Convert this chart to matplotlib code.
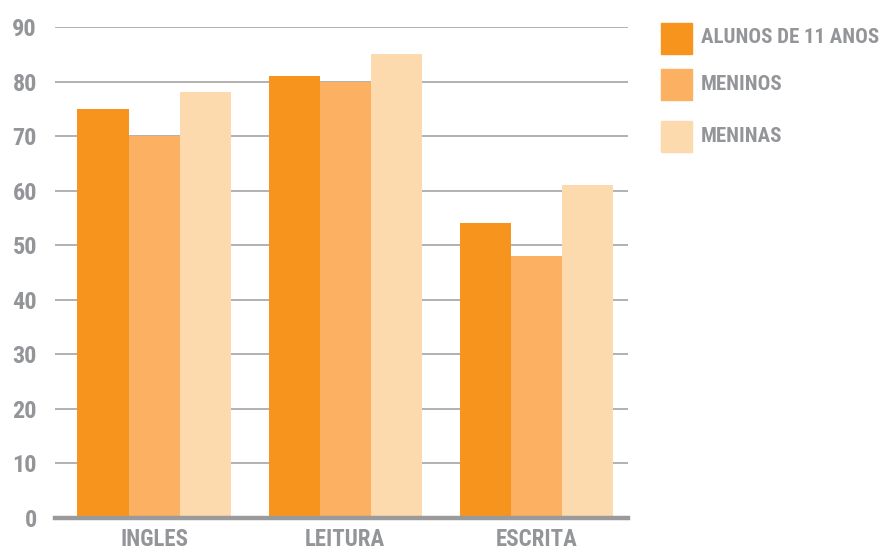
import matplotlib
matplotlib.use("Agg")
import matplotlib.pyplot as plt
from matplotlib.patches import Rectangle
from matplotlib import font_manager
import numpy as np

categories = ["INGLES", "LEITURA", "ESCRITA"]
series_names = ["ALUNOS DE 11 ANOS", "MENINOS", "MENINAS"]
alunos = [75, 81, 54]
meninos = [70, 80, 48]
meninas = [78, 85, 61]
yticks = [0, 10, 20, 30, 40, 50, 60, 70, 80, 90]
colors = ["#F7941E", "#FBB062", "#FDD9AE"]

names = {f.name for f in font_manager.fontManager.ttflist}
fam = "DejaVu Sans"
for cand in ["Liberation Sans Narrow", "Roboto Condensed", "Open Sans Condensed", "DejaVu Sans"]:
    if cand in names:
        fam = cand
        break
plt.rcParams['font.family'] = [fam, 'DejaVu Sans']
plt.rcParams['font.stretch'] = 'condensed'
gray = "#939598"

fig = plt.figure(figsize=(8.82, 5.52), dpi=100)
ax = fig.add_axes([55/882, 1-518/552, (628-55)/882, (518-27)/552])

x = np.arange(len(categories))
w = 0.267
for i, vals in enumerate([alunos, meninos, meninas]):
    ax.bar(x + (i-1)*w, vals, width=w, color=colors[i], zorder=3, linewidth=0)

ax.set_xlim(-0.518, 2.479)
ax.set_ylim(0, 90)
ax.set_yticks(yticks)
ax.set_yticklabels([str(t) for t in yticks])
for t in yticks[1:]:
    ax.axhline(t, color="#ababab", lw=1.3, zorder=1)
ax.axhline(0, color="#9a9a9a", lw=3.2, zorder=4, clip_on=False)
for s in ax.spines.values():
    s.set_visible(False)
ax.tick_params(axis='y', length=0, pad=13, labelsize=17.5, labelcolor=gray)
ax.tick_params(axis='x', length=0, pad=7, labelsize=16.5, labelcolor=gray)
ax.set_xticks(x)
ax.set_xticklabels(categories)
for lab in ax.get_xticklabels() + ax.get_yticklabels():
    lab.set_fontweight('bold')
    lab.set_fontstretch('condensed')

# legend
ys = [23, 69, 121]
baselines = [43.3, 90, 141.7]
for name, c, yt, bl in zip(series_names, colors, ys, baselines):
    fig.patches.append(Rectangle((661/882, 1-(yt+31)/552), 31/882, 31/552,
                                 transform=fig.transFigure, color=c, figure=fig))
    fig.text(701/882, 1-bl/552, name, fontsize=15, fontweight='bold',
             fontstretch='condensed', color=gray, va='baseline', ha='left')

fig.savefig("out.png", dpi=100)
